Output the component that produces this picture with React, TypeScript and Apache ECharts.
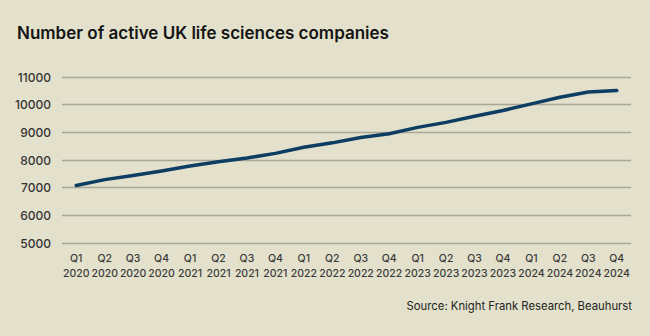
import React, { useEffect, useRef } from "react";
import * as echarts from "echarts";

const quarters = ["Q1", "Q2", "Q3", "Q4", "Q1", "Q2", "Q3", "Q4", "Q1", "Q2", "Q3", "Q4", "Q1", "Q2", "Q3", "Q4", "Q1", "Q2", "Q3", "Q4"];
const years = ["2020", "2020", "2020", "2020", "2021", "2021", "2021", "2021", "2022", "2022", "2022", "2022", "2023", "2023", "2023", "2023", "2024", "2024", "2024", "2024"];
const categories = quarters.map((q, i) => q + "\n" + years[i]);
const companies = [7080, 7290, 7440, 7600, 7780, 7940, 8070, 8240, 8460, 8620, 8810, 8950, 9180, 9360, 9580, 9790, 10030, 10270, 10460, 10510];

const yMin = 5000;
const yMax = 11000;
const yInterval = 1000;

const titleText = "Number of active UK life sciences companies";
const sourceText = "Source: Knight Frank Research, Beauhurst";

export default function App() {
  const ref = useRef<HTMLDivElement>(null);
  useEffect(() => {
    if (!ref.current) return;
    const chart = echarts.init(ref.current, undefined, { renderer: "svg" });
    chart.setOption({
      animation: false,
      backgroundColor: "#e3e1cb",
      title: {
        text: titleText,
        left: 12,
        top: 19,
        textStyle: {
          fontFamily: "Inter",
          fontSize: 17,
          fontWeight: 600,
          color: "#141414",
        },
      },
      graphic: [
        {
          type: "text",
          right: 18,
          top: 300,
          style: {
            text: sourceText,
            fontFamily: "Inter",
            fontSize: 11.3,
            fill: "#222",
          },
        },
      ],
      grid: { left: 62, right: 19, top: 77, bottom: 93, containLabel: false },
      xAxis: {
        type: "category",
        data: categories,
        boundaryGap: true,
        axisLine: { show: false },
        axisTick: { show: false },
        axisLabel: {
          interval: 0,
          margin: 8,
          fontFamily: "Inter",
          fontSize: 10.5,
          fontWeight: 500,
          color: "#3a3a3a",
          lineHeight: 15,
        },
      },
      yAxis: {
        type: "value",
        min: yMin,
        max: yMax,
        interval: yInterval,
        axisLine: { show: false },
        axisTick: { show: false },
        axisLabel: {
          margin: 11,
          fontFamily: "Inter",
          fontSize: 12,
          fontWeight: 500,
          color: "#333",
          formatter: (v: number) => String(v),
        },
        splitLine: { lineStyle: { color: "#a9a798", width: 1.3 } },
      },
      series: [
        {
          type: "line",
          data: companies,
          showSymbol: false,
          symbol: "none",
          lineStyle: { color: "#0e3d63", width: 3.5, cap: "round", join: "round" },
        },
      ],
    });
    return () => chart.dispose();
  }, []);
  return <div ref={ref} style={{ width: 650, height: 336, position: "absolute", left: 0, top: 0 }} />;
}
